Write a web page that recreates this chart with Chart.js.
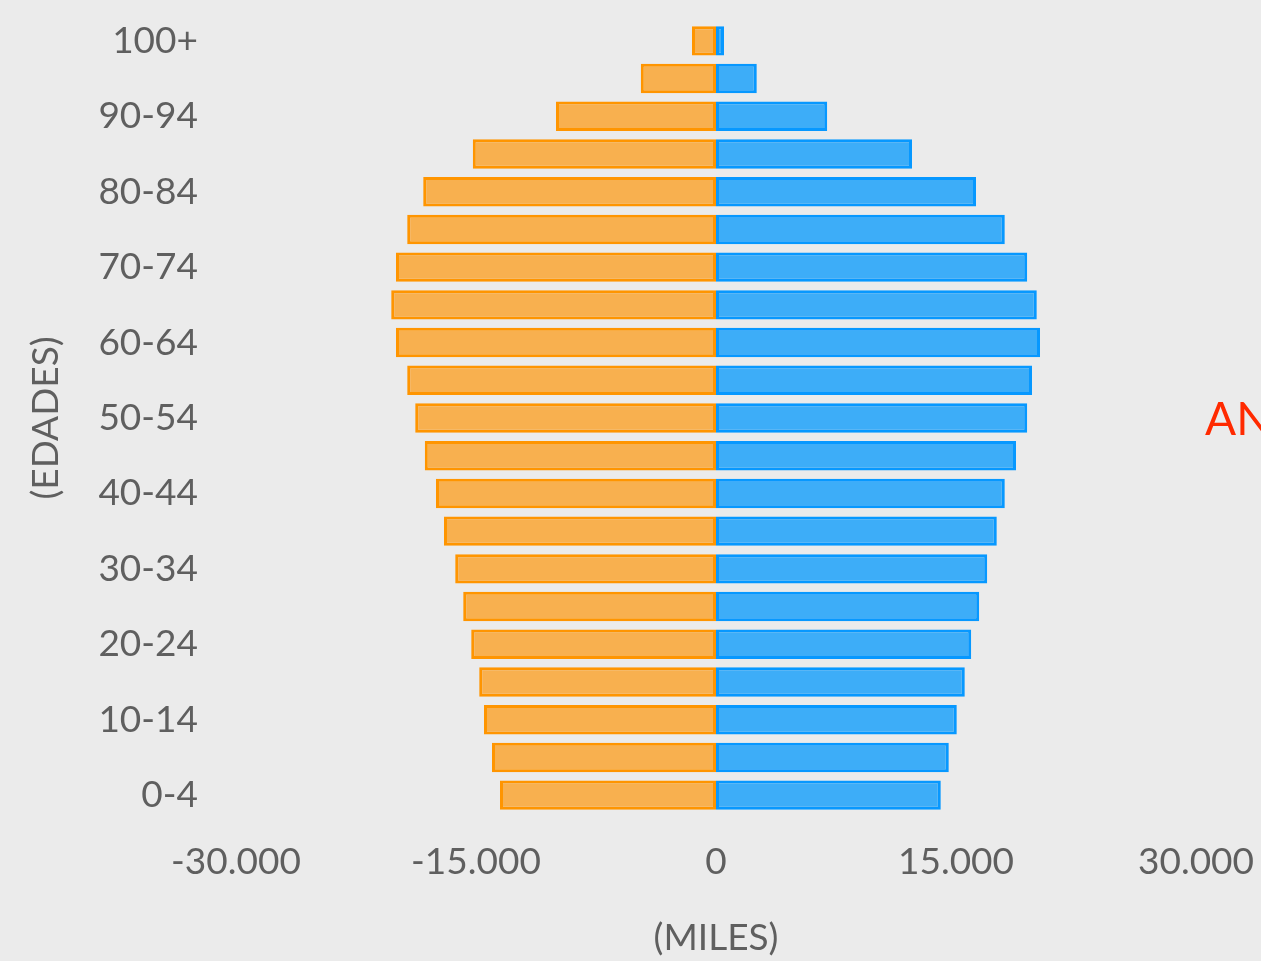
<!DOCTYPE html>
<html>
<head>
<meta charset="utf-8">
<script src="https://cdn.jsdelivr.net/npm/chart.js@4.4.1/dist/chart.umd.min.js"></script>
<style>
  html, body { margin: 0; padding: 0; background: #ebebeb; overflow: hidden; }
  #wrap { position: relative; width: 1261px; height: 961px; }
  #side { position: absolute; left: 1205px; top: 390px; font-family: Lato, sans-serif; font-size: 46px; line-height: 56px; color: #ff2a00; white-space: nowrap; }
</style>
</head>
<body>
<div id="wrap">
  <canvas id="pyramid" width="1261" height="961"></canvas>
  <div id="side">AN</div>
</div>
<script>
var ageGroups = ["100+", "95-99", "90-94", "85-89", "80-84", "75-79", "70-74", "65-69",
  "60-64", "55-59", "50-54", "45-49", "40-44", "35-39", "30-34", "25-29", "20-24",
  "15-19", "10-14", "5-9", "0-4"];

// left side (negative values)
var mujeres = [-1500, -4700, -10000, -15200, -18300, -19300, -20000, -20300, -20000,
  -19300, -18800, -18200, -17500, -17000, -16300, -15800, -15300, -14800, -14500,
  -14000, -13500];

// right side
var hombres = [500, 2550, 6950, 12250, 16250, 18050, 19450, 20050, 20250, 19750,
  19450, 18750, 18050, 17550, 16950, 16450, 15950, 15550, 15050, 14550, 14050];

var xTicks = [-30000, -15000, 0, 15000, 30000];

function miles(v) {
  var s = Math.abs(v).toString().replace(/\B(?=(\d{3})+(?!\d))/g, ".");
  return (v < 0 ? "-" : "") + s;
}

var txt = "#5f5f5f";
var font = { family: "Lato", size: 37 };

new Chart(document.getElementById("pyramid"), {
  type: "bar",
  data: {
    labels: ageGroups,
    datasets: [
      {
        label: "Mujeres",
        data: mujeres,
        backgroundColor: "#f8b04f",
        borderColor: "#ff9500",
        borderWidth: 3,
        borderSkipped: false
      },
      {
        label: "Hombres",
        data: hombres,
        backgroundColor: "#3dadf8",
        borderColor: "#0798ff",
        borderWidth: 3,
        borderSkipped: false
      }
    ]
  },
  options: {
    indexAxis: "y",
    responsive: false,
    animation: false,
    barPercentage: 0.78,
    categoryPercentage: 1,
    layout: { padding: { top: 22, right: 65, left: 0, bottom: 0 } },
    plugins: {
      legend: { display: false },
      tooltip: { enabled: false }
    },
    scales: {
      x: {
        stacked: true,
        min: -30000,
        max: 30000,
        grid: { display: false, drawTicks: false },
        border: { display: false },
        afterBuildTicks: function (axis) {
          axis.ticks = xTicks.map(function (v) { return { value: v }; });
        },
        afterFit: function (axis) {
          axis.height = 147;
          axis.paddingLeft = 0;
          axis.paddingRight = 0;
        },
        ticks: {
          color: txt,
          font: font,
          padding: 26,
          maxRotation: 0,
          callback: function (v) { return miles(v); }
        },
        title: {
          display: true,
          text: "(MILES)",
          color: txt,
          font: font,
          padding: { top: 0, bottom: 1 }
        }
      },
      y: {
        stacked: true,
        grid: { display: false, drawTicks: false },
        border: { display: false },
        afterFit: function (axis) {
          axis.width = 236;
          axis.paddingTop = 0;
          axis.paddingBottom = 0;
        },
        ticks: {
          color: txt,
          font: font,
          padding: 38,
          autoSkip: false,
          callback: function (v, i) { return i % 2 === 0 ? ageGroups[i] : ""; }
        },
        title: {
          display: true,
          text: "(EDADES)",
          color: txt,
          font: font,
          padding: { top: 24, bottom: 0 }
        }
      }
    }
  }
});
</script>
</body>
</html>
